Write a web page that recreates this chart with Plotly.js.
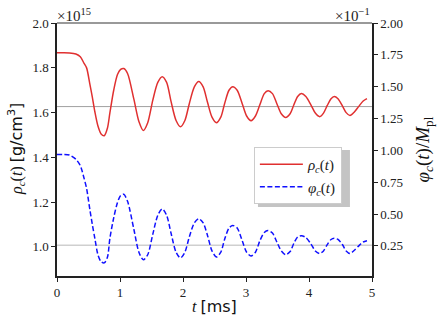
<!DOCTYPE html>
<html>
<head>
<meta charset="utf-8">
<script src="https://cdn.plot.ly/plotly-3.0.1.min.js"></script>
<style>
  html, body { margin: 0; padding: 0; background: #fff; }
  #chart { width: 440px; height: 326px; }
</style>
</head>
<body>
<div id="chart"></div>
<script>
// time in ms
const tValues = [0, 0.1, 0.2, 0.3, 0.37, 0.43, 0.47, 0.52, 0.56, 0.6, 0.65, 0.7, 0.75, 0.8, 0.84, 0.9, 0.96, 1.01, 1.06, 1.12,
    1.22, 1.3, 1.37, 1.44, 1.52, 1.6, 1.67, 1.74, 1.81, 1.89, 1.96, 2.03, 2.1, 2.18, 2.25, 2.32, 2.39, 2.46, 2.53, 2.6,
    2.66, 2.73, 2.79, 2.86, 2.94, 3.01, 3.08, 3.15, 3.22, 3.29, 3.35, 3.42, 3.49, 3.56, 3.63, 3.7, 3.76, 3.82, 3.88, 3.95,
    4.03, 4.1, 4.17, 4.23, 4.29, 4.35, 4.4, 4.46, 4.53, 4.59, 4.65, 4.72, 4.79, 4.86, 4.92];

// central density, units of 1e15 g/cm^3
const rhoValues = [1.868, 1.868, 1.867, 1.862, 1.85, 1.82, 1.80, 1.73, 1.67, 1.605, 1.54, 1.505, 1.497, 1.53, 1.60, 1.70, 1.77, 1.793, 1.797, 1.775,
    1.66, 1.56, 1.52, 1.555, 1.655, 1.735, 1.76, 1.735, 1.65, 1.565, 1.537, 1.565, 1.64, 1.715, 1.739, 1.715, 1.645, 1.58, 1.555, 1.58,
    1.64, 1.70, 1.716, 1.70, 1.64, 1.585, 1.564, 1.585, 1.635, 1.685, 1.698, 1.685, 1.64, 1.595, 1.578, 1.595, 1.635, 1.672, 1.685, 1.672,
    1.635, 1.598, 1.582, 1.598, 1.632, 1.662, 1.672, 1.662, 1.63, 1.60, 1.587, 1.603, 1.628, 1.652, 1.663];

// central scalar field, units of 1e-1 M_pl
const phiValues = [0.968, 0.968, 0.963, 0.93, 0.88, 0.78, 0.70, 0.54, 0.42, 0.31, 0.18, 0.125, 0.116, 0.16, 0.31, 0.47, 0.59, 0.645, 0.655, 0.60,
    0.38, 0.2, 0.14, 0.18, 0.34, 0.49, 0.54, 0.49, 0.35, 0.2, 0.155, 0.2, 0.32, 0.43, 0.463, 0.43, 0.33, 0.21, 0.163, 0.2,
    0.3, 0.39, 0.41, 0.39, 0.29, 0.2, 0.17, 0.2, 0.29, 0.355, 0.37, 0.35, 0.28, 0.21, 0.18, 0.205, 0.27, 0.32, 0.33, 0.315,
    0.265, 0.21, 0.19, 0.21, 0.26, 0.30, 0.31, 0.30, 0.26, 0.21, 0.19, 0.215, 0.25, 0.28, 0.29];

// horizontal reference levels
const rhoRef = 1.627;
const phiRef = 0.255;

const serif = "'Liberation Serif', 'Times New Roman', serif";

const traces = [
    {
        x: tValues,
        y: rhoValues,
        name: "<i>ρ<sub>c</sub></i>(<i>t</i>)",
        mode: "lines",
        line: { color: "#e03030", width: 1.5, shape: "spline", smoothing: 0.8 },
        yaxis: "y",
    },
    {
        x: tValues,
        y: phiValues,
        name: "<i>φ<sub>c</sub></i>(<i>t</i>)",
        mode: "lines",
        line: { color: "#1010ff", width: 1.5, dash: "5px,2.5px", shape: "spline", smoothing: 0.8 },
        yaxis: "y2",
    },
];

const axisStyle = {
    ticks: "outside", ticklen: 4, tickwidth: 1, tickcolor: "#222",
    showline: true, linecolor: "#222", linewidth: 1.5,
    showgrid: false, zeroline: false,
    tickfont: { family: serif, size: 13, color: "#222" },
};

const layout = {
    width: 440,
    height: 326,
    margin: { l: 57, r: 68, t: 23, b: 50 },
    paper_bgcolor: "white",
    plot_bgcolor: "white",
    font: { family: serif, size: 13, color: "#222" },
    showlegend: true,
    legend: {
        x: 0.625, y: 0.51, xanchor: "left", yanchor: "top",
        bgcolor: "white", bordercolor: "#cccccc", borderwidth: 1,
        font: { family: serif, size: 15, color: "#222" },
        itemwidth: 43,
        tracegroupgap: 2,
    },
    xaxis: Object.assign({ range: [0, 5], tickvals: [0, 1, 2, 3, 4, 5] }, axisStyle),
    yaxis: Object.assign({
        range: [0.87, 2.0005],
        tickvals: [1.0, 1.2, 1.4, 1.6, 1.8, 2.0],
        tickformat: ".1f",
    }, axisStyle),
    yaxis2: Object.assign({
        overlaying: "y",
        side: "right",
        range: [0.013, 2.0005],
        tickvals: [0.25, 0.5, 0.75, 1.0, 1.25, 1.5, 1.75, 2.0],
        tickformat: ".2f",
    }, axisStyle),
    shapes: [
        { type: "line", xref: "paper", x0: 0, x1: 1, yref: "y", y0: rhoRef, y1: rhoRef,
          line: { color: "#a0a0a0", width: 1 }, layer: "below" },
        { type: "line", xref: "paper", x0: 0, x1: 1, yref: "y2", y0: phiRef, y1: phiRef,
          line: { color: "#cfcfcf", width: 1.5 }, layer: "below" },
        // top spine
        { type: "line", xref: "paper", yref: "paper", x0: 0, x1: 1, y0: 1, y1: 1,
          line: { color: "#777777", width: 1.5 } },
        // drop shadow under the legend frame
        { type: "rect", xref: "paper", yref: "paper", x0: 0.638, x1: 0.93, y0: 0.273, y1: 0.498,
          fillcolor: "#c4c4c4", line: { width: 0 } },
    ],
    annotations: [
        { text: "×10<sup>15</sup>", xref: "paper", yref: "paper", x: 0, y: 1, xanchor: "left", yanchor: "bottom",
          showarrow: false, font: { family: serif, size: 15, color: "#222" }, xshift: -2, yshift: -3 },
        { text: "×10<sup>−1</sup>", xref: "paper", yref: "paper", x: 1, y: 1, xanchor: "right", yanchor: "bottom",
          showarrow: false, font: { family: serif, size: 15, color: "#222" }, yshift: -3 },
        { text: "<i>ρ<sub>c</sub></i>(<i>t</i>) <span style=\"font-family:'DejaVu Sans'\">[g/cm<sup>3</sup>]</span>",
          xref: "paper", yref: "paper", x: -0.13, y: 0.502, xanchor: "center", yanchor: "middle", textangle: -90,
          showarrow: false, font: { family: serif, size: 16, color: "#111" } },
        { text: "<i>φ<sub>c</sub></i>(<i>t</i>)/<i>M</i><sub>pl</sub>",
          xref: "paper", yref: "paper", x: 1.165, y: 0.5, xanchor: "center", yanchor: "middle", textangle: -90,
          showarrow: false, font: { family: serif, size: 19, color: "#111" } },
        { text: "<i>t</i> <span style=\"font-family:'DejaVu Sans'\">[ms]</span>",
          xref: "paper", yref: "paper", x: 0.5, y: -0.1225, xanchor: "center", yanchor: "middle",
          showarrow: false, font: { family: serif, size: 16, color: "#111" } },
    ],
};

Plotly.newPlot("chart", traces, layout, { displayModeBar: false, responsive: false });
</script>
</body>
</html>
